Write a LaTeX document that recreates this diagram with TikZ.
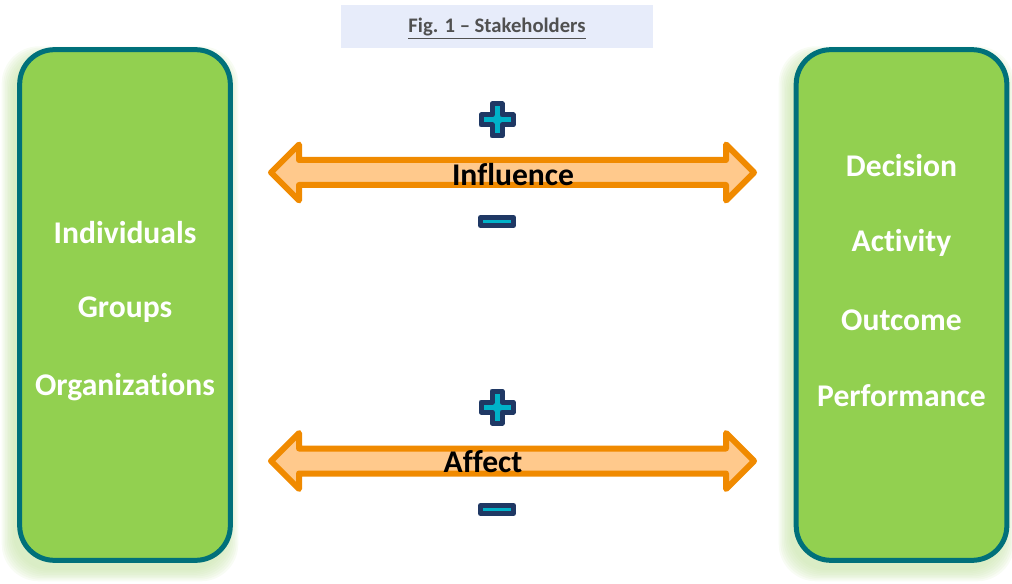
\documentclass[tikz,border=0pt]{standalone}
\usepackage{fontspec}
\setmainfont[RawFeature={-liga;-clig;-calt;-dlig}]{Carlito}
\usetikzlibrary{positioning}

\definecolor{boxgreen}{RGB}{146,208,80}
\definecolor{boxteal}{RGB}{0,112,122}
\definecolor{glowgreen}{RGB}{200,228,170}
\definecolor{arroworange}{RGB}{240,138,0}
\definecolor{arrowfill}{RGB}{255,201,140}
\definecolor{signnavy}{RGB}{31,56,100}
\definecolor{signcyan}{RGB}{0,178,200}
\definecolor{titlefill}{RGB}{231,236,250}
\definecolor{titlegray}{RGB}{80,80,80}

\tikzset{
  stakebox/.style={draw=boxteal, line width=3.75pt, fill=boxgreen, rounded corners=26pt,
    minimum width=158pt, minimum height=383pt, inner sep=0pt},
  item/.style={text=white, font=\fontsize{23.7}{28}\selectfont\bfseries},
  arrowbody/.style={draw=arroworange, fill=arrowfill, line width=4.5pt, line join=round},
  arrowtext/.style={text=black, font=\fontsize{23.7}{28}\selectfont\bfseries, inner sep=0pt},
  sign/.style={draw=signnavy, fill=signcyan, line width=3.75pt, line join=round},
  titlebox/.style={fill=titlefill, minimum width=234pt, minimum height=32pt},
  titletext/.style={text=titlegray, inner sep=0pt, font=\fontsize{15.5}{18}\selectfont\bfseries},
  twoway/.pic={
    \draw[arrowbody] (-241.5,0) -- (-213.5,-28) -- (-213.5,-12.5) -- (213.5,-12.5) -- (213.5,-28)
      -- (241.5,0) -- (213.5,28) -- (213.5,12.5) -- (-213.5,12.5) -- (-213.5,28) -- cycle;
  },
  plussign/.pic={
    \draw[sign] (-5,-16) -- (5,-16) -- (5,-5) -- (16,-5) -- (16,5) -- (5,5) -- (5,16)
      -- (-5,16) -- (-5,5) -- (-16,5) -- (-16,-5) -- (-5,-5) -- cycle;
  },
  minussign/.pic={
    \draw[sign] (-16.5,-4) rectangle (16.5,4);
  }
}

\begin{document}
\begin{tikzpicture}[x=0.75pt,y=0.75pt,yscale=-1,xscale=1]
\useasboundingbox (0,0) rectangle (1012,584);

% soft green glow behind both boxes
\foreach \g in {1,...,8}{
  \fill[glowgreen, opacity=0.13, rounded corners=28pt]
    ({14.5-1.6*\g},{57.5-1.4*\g}) rectangle ({225.5+1.6*\g},{568.5+1.6*\g});
  \fill[glowgreen, opacity=0.13, rounded corners=28pt]
    ({791.5-1.6*\g},{57.5-1.4*\g}) rectangle ({1001.5+1.6*\g},{568.5+1.6*\g});
}

% title
\node[titlebox] (title) at (497,26.5) {};
\node[titletext] (caption) at (497,28.5) {\underline{Fig. 1 – Stakeholders}};

% stakeholder boxes
\node[stakebox] (who) at (125,305) {};
\node[stakebox] (what) at (901.5,305) {};

\node[item] (individuals) at (125,233) {Individuals};
\node[item] (groups) at (125,310) {Groups};
\node[item] (organizations) at (125,387) {Organizations};

\node[item] (decision) at (901.5,166) {Decision};
\node[item] (activity) at (901.5,243) {Activity};
\node[item] (outcome) at (901.5,320) {Outcome};
\node[item] (performance) at (901.5,396) {Performance};

% influence arrow
\pic at (512.5,172.5) {twoway};
\node[arrowtext] (influence) at (513,175) {Influence};
\pic at (497,120) {plussign};
\pic at (497,221.5) {minussign};

% affect arrow
\pic at (512.5,461) {twoway};
\node[arrowtext] (affect) at (483,462) {Affect};
\pic at (497,407) {plussign};
\pic at (497,509.5) {minussign};

\end{tikzpicture}
\end{document}
